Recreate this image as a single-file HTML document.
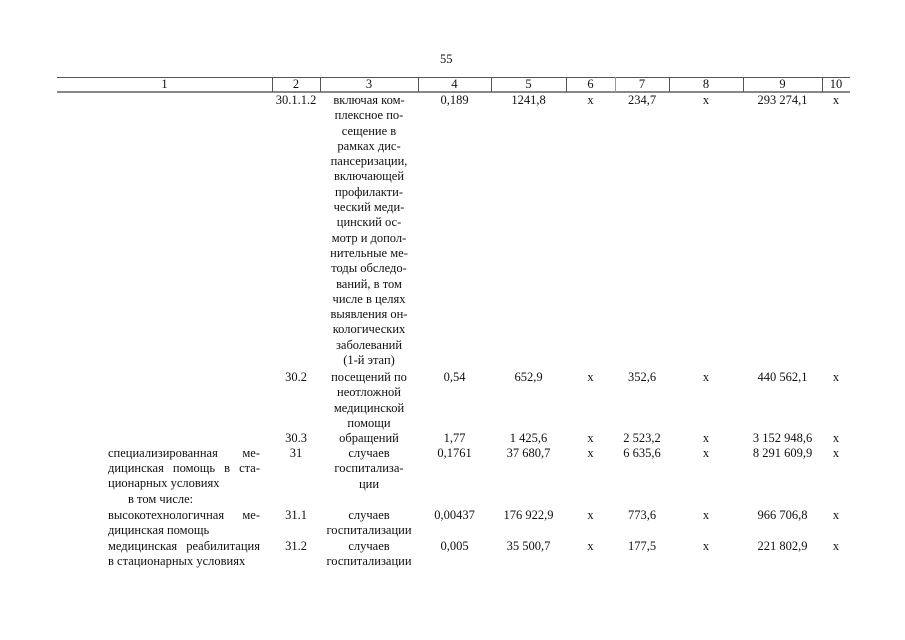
<!DOCTYPE html>
<html><head><meta charset="utf-8"><style>
body{margin:0;width:905px;height:640px;background:#fff;position:relative;overflow:hidden;font-family:"Liberation Serif",serif;font-size:12.5px;color:#111}
.a{position:absolute;line-height:15.3px;white-space:nowrap}
.c{text-align:center}
.h{position:absolute;background:#555}
.j{text-align:justify;text-align-last:justify;white-space:normal}
</style></head><body>
<div class="a" style="left:440px;top:52px">55</div>
<div class="h" style="left:57px;top:77px;width:793px;height:1px"></div>
<div class="h" style="left:57px;top:91px;width:793px;height:1.5px;background:#888"></div>
<div class="h" style="left:272px;top:77px;width:1px;height:15px"></div>
<div class="h" style="left:320px;top:77px;width:1px;height:15px"></div>
<div class="h" style="left:418px;top:77px;width:1px;height:15px"></div>
<div class="h" style="left:491px;top:77px;width:1px;height:15px"></div>
<div class="h" style="left:566px;top:77px;width:1px;height:15px"></div>
<div class="h" style="left:615px;top:77px;width:1px;height:15px;background:#999"></div>
<div class="h" style="left:669px;top:77px;width:1px;height:15px"></div>
<div class="h" style="left:743px;top:77px;width:1px;height:15px"></div>
<div class="h" style="left:822px;top:77px;width:1px;height:15px"></div>
<div class="a c" style="left:57px;width:215px;top:77px">1</div>
<div class="a c" style="left:272px;width:48px;top:77px">2</div>
<div class="a c" style="left:320px;width:98px;top:77px">3</div>
<div class="a c" style="left:418px;width:73px;top:77px">4</div>
<div class="a c" style="left:491px;width:75px;top:77px">5</div>
<div class="a c" style="left:566px;width:49px;top:77px">6</div>
<div class="a c" style="left:615px;width:54px;top:77px">7</div>
<div class="a c" style="left:669px;width:74px;top:77px">8</div>
<div class="a c" style="left:743px;width:79px;top:77px">9</div>
<div class="a c" style="left:822px;width:28px;top:77px">10</div>

<div class="a c" style="left:272px;width:48px;top:93px">30.1.1.2</div>
<div class="a c" style="left:320px;width:98px;top:93px">включая ком-<br>плексное по-<br>сещение в<br>рамках дис-<br>пансеризации,<br>включающей<br>профилакти-<br>ческий меди-<br>цинский ос-<br>мотр и допол-<br>нительные ме-<br>тоды обследо-<br>ваний, в том<br>числе в целях<br>выявления он-<br>кологических<br>заболеваний<br>(1-й этап)</div>
<div class="a c" style="left:418px;width:73px;top:93px">0,189</div>
<div class="a c" style="left:491px;width:75px;top:93px">1241,8</div>
<div class="a c" style="left:566px;width:49px;top:93px">х</div>
<div class="a c" style="left:615px;width:54px;top:93px">234,7</div>
<div class="a c" style="left:669px;width:74px;top:93px">х</div>
<div class="a c" style="left:743px;width:79px;top:93px">293 274,1</div>
<div class="a c" style="left:822px;width:28px;top:93px">х</div>

<div class="a c" style="left:272px;width:48px;top:370px">30.2</div>
<div class="a c" style="left:320px;width:98px;top:370px">посещений по<br>неотложной<br>медицинской<br>помощи</div>
<div class="a c" style="left:418px;width:73px;top:370px">0,54</div>
<div class="a c" style="left:491px;width:75px;top:370px">652,9</div>
<div class="a c" style="left:566px;width:49px;top:370px">х</div>
<div class="a c" style="left:615px;width:54px;top:370px">352,6</div>
<div class="a c" style="left:669px;width:74px;top:370px">х</div>
<div class="a c" style="left:743px;width:79px;top:370px">440 562,1</div>
<div class="a c" style="left:822px;width:28px;top:370px">х</div>

<div class="a c" style="left:272px;width:48px;top:431px">30.3</div>
<div class="a c" style="left:320px;width:98px;top:431px">обращений</div>
<div class="a c" style="left:418px;width:73px;top:431px">1,77</div>
<div class="a c" style="left:491px;width:75px;top:431px">1 425,6</div>
<div class="a c" style="left:566px;width:49px;top:431px">х</div>
<div class="a c" style="left:615px;width:54px;top:431px">2 523,2</div>
<div class="a c" style="left:669px;width:74px;top:431px">х</div>
<div class="a c" style="left:743px;width:79px;top:431px">3 152 948,6</div>
<div class="a c" style="left:822px;width:28px;top:431px">х</div>

<div class="a j" style="left:108px;width:152px;top:446px">специализированная ме-<br></div>
<div class="a j" style="left:108px;width:152px;top:461px">дицинская помощь в ста-</div>
<div class="a" style="left:108px;top:476px">ционарных условиях</div>
<div class="a" style="left:128px;top:492px">в том числе:</div>
<div class="a c" style="left:272px;width:48px;top:446px">31</div>
<div class="a c" style="left:320px;width:98px;top:446px">случаев<br>госпитализа-<br>ции</div>
<div class="a c" style="left:418px;width:73px;top:446px">0,1761</div>
<div class="a c" style="left:491px;width:75px;top:446px">37 680,7</div>
<div class="a c" style="left:566px;width:49px;top:446px">х</div>
<div class="a c" style="left:615px;width:54px;top:446px">6 635,6</div>
<div class="a c" style="left:669px;width:74px;top:446px">х</div>
<div class="a c" style="left:743px;width:79px;top:446px">8 291 609,9</div>
<div class="a c" style="left:822px;width:28px;top:446px">х</div>

<div class="a j" style="left:108px;width:152px;top:508px">высокотехнологичная ме-</div>
<div class="a" style="left:108px;top:523px">дицинская помощь</div>
<div class="a c" style="left:272px;width:48px;top:508px">31.1</div>
<div class="a c" style="left:320px;width:98px;top:508px">случаев<br>госпитализации</div>
<div class="a c" style="left:418px;width:73px;top:508px">0,00437</div>
<div class="a c" style="left:491px;width:75px;top:508px">176 922,9</div>
<div class="a c" style="left:566px;width:49px;top:508px">х</div>
<div class="a c" style="left:615px;width:54px;top:508px">773,6</div>
<div class="a c" style="left:669px;width:74px;top:508px">х</div>
<div class="a c" style="left:743px;width:79px;top:508px">966 706,8</div>
<div class="a c" style="left:822px;width:28px;top:508px">х</div>

<div class="a j" style="left:108px;width:152px;top:539px">медицинская реабилитация</div>
<div class="a" style="left:108px;top:554px">в стационарных условиях</div>
<div class="a c" style="left:272px;width:48px;top:539px">31.2</div>
<div class="a c" style="left:320px;width:98px;top:539px">случаев<br>госпитализации</div>
<div class="a c" style="left:418px;width:73px;top:539px">0,005</div>
<div class="a c" style="left:491px;width:75px;top:539px">35 500,7</div>
<div class="a c" style="left:566px;width:49px;top:539px">х</div>
<div class="a c" style="left:615px;width:54px;top:539px">177,5</div>
<div class="a c" style="left:669px;width:74px;top:539px">х</div>
<div class="a c" style="left:743px;width:79px;top:539px">221 802,9</div>
<div class="a c" style="left:822px;width:28px;top:539px">х</div>
</body></html>
